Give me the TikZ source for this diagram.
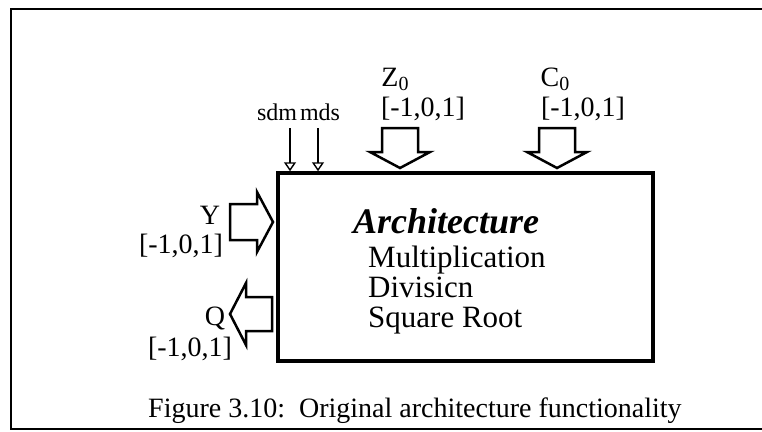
\documentclass[tikz,border=0pt]{standalone}
\usepackage{fontspec}
\setmainfont{Liberation Serif}
\usetikzlibrary{arrows.meta}

\newcommand{\subnull}{\raisebox{-4pt}{\fontsize{20}{20}\selectfont 0}}

\tikzset{
  lbl/.style={inner sep=0pt, anchor=base, font=\fontsize{28}{30}\selectfont},
  sigtext/.style={inner sep=0pt, anchor=base, font=\fontsize{24}{26}\selectfont},
  item/.style={inner sep=0pt, anchor=base west, font=\fontsize{31}{34}\selectfont},
  fatarrow/.style={line width=2.5pt, line join=miter},
  sig/.style={line width=1.4pt, -{Triangle[open, length=9pt, width=12pt, line width=1.4pt]}},
}

\begin{document}
\begin{tikzpicture}[x=1pt, y=-1pt]
			\useasboundingbox (0,0) rectangle (762,431);
			% frame
			\draw[line width=2pt] (770,9) -- (11,9) -- (11,429) -- (770,429);
			% the unit
			\node[draw, line width=3.5pt, minimum width=375pt, minimum height=188pt, inner sep=0pt] (arch) at (465.5,267) {};
			\node[inner sep=0pt, anchor=base, font=\fontsize{36}{38}\selectfont\bfseries\itshape] (title) at (446,233) {Architecture};
			\node[item] (mult) at (368,267) {Multiplication};
			\node[item] (div) at (368,297) {Divisicn};
			\node[item] (sqroot) at (368,327) {Square Root};
			% control signals
			\node[sigtext] (sdm) at (277,120) {sdm};
			\node[sigtext] (mds) at (320,120) {mds};
			\coordinate (sdmtop) at (290,128);
			\coordinate (mdstop) at (318,128);
			\draw[sig] (sdmtop) -- (sdmtop |- arch.north);
			\draw[sig] (mdstop) -- (mdstop |- arch.north);
			% Z0 and C0 in
			\node[lbl] (zlab) at (395,86) {Z\subnull};
			\node[lbl] (zrange) at (423,116) {[-1,0,1]};
			\node[lbl] (clab) at (555,86) {C\subnull};
			\node[lbl] (crange) at (583,116) {[-1,0,1]};
			\draw[fatarrow] (382,128) -- (418,128) -- (418,152) -- (430,152) -- (400,168) -- (370,152) -- (382,152) -- cycle;
			\draw[fatarrow] (539,128) -- (575,128) -- (575,152) -- (587,152) -- (557,168) -- (527,152) -- (539,152) -- cycle;
			% Y in, Q out
			\node[lbl] (ylab) at (210,224) {Y};
			\node[lbl] (yrange) at (181,253) {[-1,0,1]};
			\node[lbl] (qlab) at (215,325) {Q};
			\node[lbl] (qrange) at (190,356) {[-1,0,1]};
			\draw[fatarrow] (230,204) -- (257,204) -- (257,192) -- (273,222) -- (257,252) -- (257,240) -- (230,240) -- cycle;
			\draw[fatarrow] (272,297) -- (246,297) -- (246,283) -- (230,314) -- (246,345) -- (246,331) -- (272,331) -- cycle;
			% caption
			\node[inner sep=0pt, anchor=base west, font=\fontsize{28}{30}\selectfont] (caption) at (148,417) {Figure 3.10:\ \ Original architecture functionality};
		\end{tikzpicture}
\end{document}
